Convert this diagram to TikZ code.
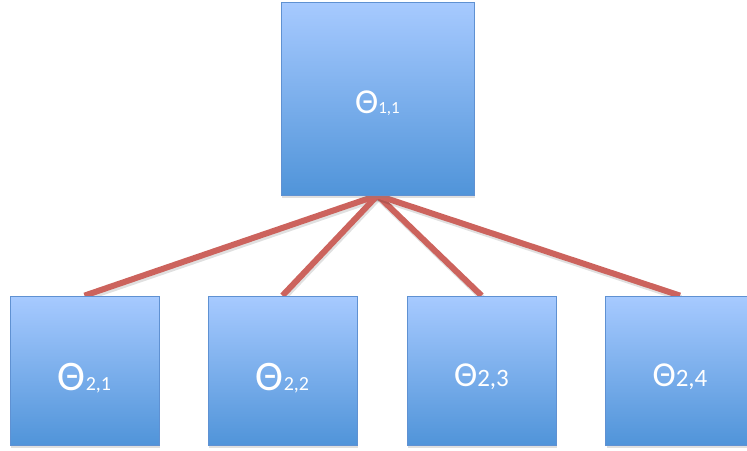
\documentclass[tikz,border=0pt]{standalone}
\usepackage{fontspec}
\setmainfont{Carlito}
\usetikzlibrary{shadows,backgrounds}
\definecolor{boxtop}{RGB}{167,202,255}
\definecolor{boxbot}{RGB}{80,148,217}
\definecolor{boxline}{RGB}{95,145,210}
\definecolor{linkred}{RGB}{204,99,93}
\begin{document}
\begin{tikzpicture}[x=1pt,y=-1pt,
  box/.style={draw=boxline, line width=0.8pt, top color=boxtop, bottom color=boxbot,
    minimum width=149pt, minimum height=149pt, inner sep=0pt, text=white,
    drop shadow={opacity=0.25, shadow xshift=1pt, shadow yshift=-3pt}},
  bigbox/.style={box, minimum width=193pt, minimum height=193pt},
  link/.style={draw=linkred, line width=6pt},
  linkshadow/.style={draw=black, opacity=0.12, line width=6pt},
]
\useasboundingbox (0,0) rectangle (747,450);
\clip (0,0) rectangle (747,450);
\node[bigbox, text height=29pt, text depth=0pt] (t) at (377.5,98.5)
  {\fontsize{35}{35}\selectfont Θ\fontsize{17}{17}\selectfont 1,1};
\node[box, text height=39pt, text depth=0pt] (b1) at (84.5,370.5)
  {\fontsize{42}{42}\selectfont Θ\fontsize{20}{20}\selectfont 2,1};
\node[box, text height=39pt, text depth=0pt] (b2) at (282.5,370.5)
  {\fontsize{42}{42}\selectfont Θ\fontsize{20}{20}\selectfont 2,2};
\node[box, text height=31pt, text depth=0pt] (b3) at (481.5,370.5)
  {\fontsize{35}{35}\selectfont Θ\fontsize{25}{25}\selectfont 2,3};
\node[box, text height=31pt, text depth=0pt] (b4) at (680,370.5)
  {\fontsize{35}{35}\selectfont Θ\fontsize{25}{25}\selectfont 2,4};
\begin{scope}[on background layer]
  \foreach \b in {b1,b2,b3,b4}{
    \draw[linkshadow, transform canvas={xshift=1pt,yshift=-2.5pt}] (t.south) -- (\b.north);
    \draw[link] (t.south) -- (\b.north);
  }
\end{scope}
\end{tikzpicture}
\end{document}
